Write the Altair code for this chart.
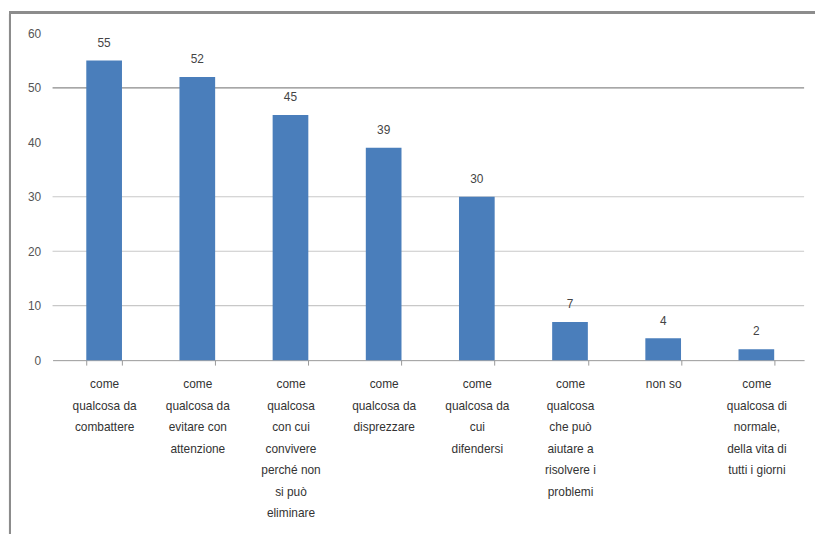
import altair as alt
import pandas as pd

categories = [
    "come|qualcosa da|combattere",
    "come|qualcosa da|evitare con|attenzione",
    "come|qualcosa|con cui|convivere|perché non|si può|eliminare",
    "come|qualcosa da|disprezzare",
    "come|qualcosa da|cui|difendersi",
    "come|qualcosa|che può|aiutare a|risolvere i|problemi",
    "non so",
    "come|qualcosa di|normale,|della vita di|tutti i giorni",
]
values = [55, 52, 45, 39, 30, 7, 4, 2]
y_ticks = [0, 10, 20, 30, 40, 50, 60]
grid_values = [10, 20, 30, 50]
grid_dark = [False, False, False, True]

df = pd.DataFrame({"cat": categories, "val": values})
gdf = pd.DataFrame({"g": grid_values, "dark": grid_dark})

W, H = 759, 330
yscale = alt.Scale(domain=[0, 60])

x = alt.X(
    "cat:N",
    sort=categories,
    title=None,
    scale=alt.Scale(paddingInner=0.617, paddingOuter=0.3415, align=0.53),
    axis=alt.Axis(
        labelAngle=0,
        labelExpr="split(datum.label, '|')",
        labelLineHeight=21.7,
        labelFontSize=12,
        labelColor="#333333",
        labelFont="Liberation Sans",
        labelPadding=14,
        labelLimit=200,
        tickBand="extent",
        tickSize=5,
        tickColor="#999999",
        domainColor="#999999",
        grid=False,
    ),
)

y_axis = alt.Axis(
    values=y_ticks,
    domain=False,
    ticks=False,
    grid=False,
    labelPadding=12,
    labelFontSize=12,
    labelColor="#555555",
    labelFont="Liberation Sans",
)

y = alt.Y("val:Q", title=None, scale=yscale, axis=y_axis)

grid = alt.Chart(gdf).mark_rule(strokeWidth=1.2).encode(
    y=alt.Y("g:Q", title=None, scale=yscale, axis=y_axis),
    x=alt.value(0),
    x2=alt.value(W),
    color=alt.condition("datum.dark", alt.value("#8a8a8a"), alt.value("#c8c8c8")),
)

bars = alt.Chart(df).mark_bar(color="#4a7ebb").encode(x=x, y=y)

labels = alt.Chart(df).mark_text(
    dy=-18, fontSize=12, color="#444444", font="Liberation Sans"
).encode(x=x, y=y, text="val:Q")

frame = alt.Chart(df).mark_rect(
    fill=None, stroke="#8c8c8c", strokeWidth=2
).encode(
    x=alt.value(-43), x2=alt.value(W + 40), y=alt.value(-21), y2=alt.value(H + 200)
)

chart = (
    alt.layer(grid, frame, bars, labels)
    .properties(
        width=W, height=H,
        padding={"left": 45, "top": 23, "right": 11, "bottom": 180},
        autosize="none",
        background="white",
    )
    .configure_view(strokeWidth=0, stroke="transparent")
)

chart.save("out.html", embed_options={"renderer": "svg", "actions": False})
